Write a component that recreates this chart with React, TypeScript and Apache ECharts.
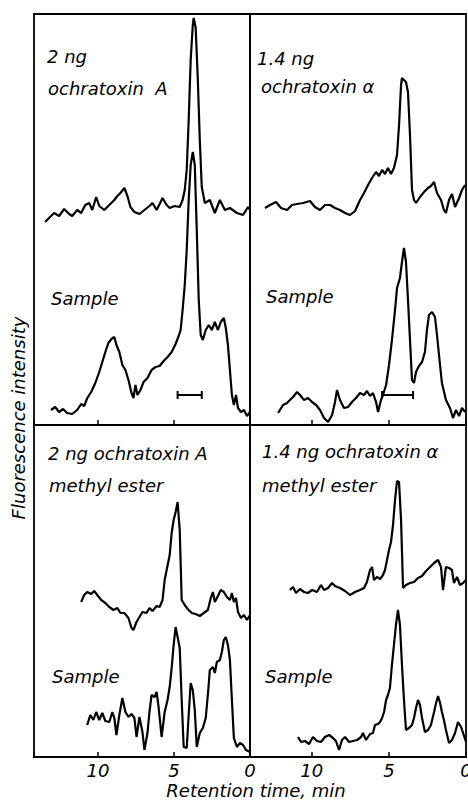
import React, { useEffect, useRef } from "react";
import * as echarts from "echarts";

type Pt = [number, number];

// Retention time (min) vs fluorescence intensity (arbitrary units, above each trace's baseline)
const OTA_STANDARD: Pt[] = [
  [13.47, 3], [13.21, 7], [12.88, 12], [12.55, 9], [12.22, 16], [11.89, 11], [11.69, 9], [11.36, 15],
  [11.1, 12], [10.83, 20], [10.57, 22], [10.37, 15], [10.11, 28], [9.91, 19], [9.58, 15], [9.25, 20],
  [8.92, 25], [8.72, 29], [8.52, 32], [8.26, 37], [8.06, 29], [7.86, 18], [7.6, 13], [7.27, 11],
  [6.94, 15], [6.61, 19], [6.41, 22], [6.14, 15], [5.94, 21], [5.75, 27], [5.48, 20], [5.28, 17],
  [4.95, 19], [4.62, 18], [4.43, 25], [4.29, 35], [4.16, 55], [4.03, 105], [3.9, 165], [3.76, 200],
  [3.7, 207], [3.57, 197], [3.43, 145], [3.3, 85], [3.17, 38], [2.97, 22], [2.64, 25], [2.31, 12],
  [1.98, 25], [1.65, 15], [1.32, 17], [0.86, 12], [0.46, 10], [0.13, 18], [0, 15],
];
const OTA_SAMPLE: Pt[] = [
  [13.08, 15], [12.81, 18], [12.55, 13], [12.29, 16], [12.02, 12], [11.69, 11], [11.36, 15], [11.1, 21],
  [10.9, 19], [10.7, 27], [10.44, 33], [10.17, 42], [9.91, 53], [9.71, 63], [9.51, 73], [9.31, 82],
  [9.11, 86], [8.92, 88], [8.78, 80], [8.59, 73], [8.39, 60], [8.19, 55], [7.99, 45], [7.79, 32],
  [7.66, 27], [7.53, 40], [7.4, 30], [7.2, 35], [7.0, 43], [6.74, 47], [6.47, 55], [6.21, 58],
  [5.94, 59], [5.68, 64], [5.42, 68], [5.15, 73], [4.89, 81], [4.69, 89], [4.56, 95], [4.43, 115],
  [4.29, 140], [4.16, 175], [4.03, 225], [3.9, 260], [3.76, 273], [3.63, 260], [3.5, 195], [3.37, 125],
  [3.24, 90], [3.1, 85], [2.91, 95], [2.71, 100], [2.51, 95], [2.31, 103], [2.11, 95], [1.92, 103],
  [1.72, 107], [1.59, 97], [1.45, 80], [1.32, 55], [1.19, 30], [1.06, 20], [0.92, 30], [0.79, 17],
  [0.59, 13], [0.4, 15], [0.2, 9], [0, 13],
];
const OTA_SAMPLE_BAR: Pt[] = [[4.76, 30], [3.17, 30]];

const OTALPHA_STANDARD: Pt[] = [
  [13.03, 17], [12.7, 20], [12.31, 23], [11.99, 17], [11.6, 15], [11.28, 20], [10.95, 21], [10.56, 22],
  [10.11, 24], [9.79, 18], [9.46, 15], [9.14, 20], [8.81, 20], [8.49, 17], [8.17, 15], [7.84, 12],
  [7.52, 10], [7.19, 14], [6.87, 25], [6.61, 32], [6.35, 40], [6.09, 47], [5.83, 53], [5.64, 49],
  [5.44, 55], [5.25, 51], [5.06, 57], [4.86, 51], [4.67, 57], [4.47, 70], [4.34, 100], [4.21, 140],
  [4.15, 147], [4.02, 145], [3.89, 143], [3.76, 133], [3.63, 90], [3.5, 35], [3.37, 25], [3.24, 22],
  [2.98, 28], [2.72, 33], [2.46, 37], [2.27, 39], [2.07, 43], [1.88, 32], [1.62, 25], [1.43, 15],
  [1.3, 12], [1.1, 25], [0.91, 31], [0.71, 18], [0.45, 27], [0.26, 35], [0.06, 40],
];
const OTALPHA_SAMPLE: Pt[] = [
  [12.18, 12], [11.86, 20], [11.6, 22], [11.41, 25], [11.21, 28], [10.95, 33], [10.76, 30], [10.5, 25],
  [10.24, 27], [9.98, 23], [9.72, 20], [9.46, 15], [9.2, 7], [8.94, 3], [8.68, 10], [8.49, 23],
  [8.36, 35], [8.17, 25], [7.91, 17], [7.65, 18], [7.39, 23], [7.13, 27], [6.87, 32], [6.61, 30],
  [6.42, 34], [6.22, 29], [6.03, 32], [5.83, 23], [5.7, 13], [5.51, 25], [5.38, 30], [5.18, 40],
  [4.99, 60], [4.8, 85], [4.6, 115], [4.47, 137], [4.28, 147], [4.15, 163], [4.02, 177], [3.89, 163],
  [3.76, 125], [3.63, 85], [3.5, 45], [3.37, 42], [3.24, 53], [3.05, 59], [2.85, 63], [2.66, 73],
  [2.53, 95], [2.4, 110], [2.2, 113], [2.01, 108], [1.88, 90], [1.75, 70], [1.56, 42], [1.3, 25],
  [1.04, 17], [0.84, 7], [0.65, 15], [0.45, 9], [0.26, 17], [0.06, 13],
];
const OTALPHA_SAMPLE_BAR: Pt[] = [[5.44, 30], [3.43, 30]];

const OTA_ME_STANDARD: Pt[] = [
  [11.1, 38], [10.9, 45], [10.7, 48], [10.44, 46], [10.24, 49], [10.04, 45], [9.78, 40], [9.51, 37],
  [9.25, 33], [8.98, 30], [8.72, 32], [8.52, 27], [8.26, 27], [7.99, 22], [7.79, 12], [7.66, 10],
  [7.46, 18], [7.27, 23], [7.07, 28], [6.8, 27], [6.61, 32], [6.41, 29], [6.14, 34], [5.94, 33],
  [5.75, 40], [5.61, 60], [5.48, 70], [5.28, 85], [5.15, 107], [5.02, 120], [4.89, 128], [4.76, 138],
  [4.62, 110], [4.49, 40], [4.29, 35], [4.1, 31], [3.83, 27], [3.57, 26], [3.3, 24], [3.04, 27],
  [2.77, 30], [2.58, 42], [2.44, 48], [2.31, 38], [2.11, 44], [1.92, 50], [1.72, 48], [1.52, 43],
  [1.32, 40], [1.19, 47], [1.06, 38], [0.92, 42], [0.79, 28], [0.59, 22], [0.4, 25], [0.2, 20], [0, 25],
];
const OTA_ME_SAMPLE: Pt[] = [
  [10.7, 32], [10.5, 42], [10.3, 37], [10.11, 45], [9.91, 37], [9.71, 44], [9.51, 36], [9.25, 35],
  [9.05, 45], [8.92, 39], [8.78, 22], [8.59, 42], [8.39, 59], [8.19, 45], [7.99, 40], [7.79, 43],
  [7.6, 39], [7.46, 20], [7.27, 40], [7.07, 25], [6.94, 7], [6.74, 24], [6.61, 45], [6.47, 62],
  [6.27, 60], [6.14, 65], [6.01, 50], [5.81, 20], [5.61, 45], [5.42, 57], [5.28, 70], [5.15, 89],
  [5.02, 112], [4.89, 130], [4.76, 120], [4.62, 109], [4.49, 57], [4.36, 10], [4.16, 9], [4.03, 42],
  [3.9, 74], [3.76, 67], [3.63, 47], [3.5, 10], [3.3, 24], [3.1, 29], [2.91, 39], [2.77, 62],
  [2.64, 87], [2.44, 90], [2.31, 84], [2.18, 95], [1.98, 97], [1.85, 105], [1.72, 117], [1.59, 120],
  [1.45, 112], [1.32, 97], [1.19, 57], [1.06, 19], [0.86, 10], [0.66, 14], [0.46, 12], [0.26, 7], [0, 5],
];

const OTALPHA_ME_STANDARD: Pt[] = [
  [11.41, 50], [11.21, 53], [11.02, 47], [10.76, 51], [10.5, 48], [10.24, 47], [9.98, 50], [9.66, 48],
  [9.4, 55], [9.2, 50], [8.94, 52], [8.68, 57], [8.49, 54], [8.17, 52], [7.84, 49], [7.52, 45],
  [7.19, 48], [6.87, 50], [6.61, 52], [6.42, 58], [6.22, 70], [6.09, 73], [5.96, 60], [5.77, 63],
  [5.57, 61], [5.38, 65], [5.25, 70], [5.12, 80], [4.99, 90], [4.86, 98], [4.73, 115], [4.6, 140],
  [4.47, 159], [4.34, 158], [4.21, 120], [4.08, 52], [3.89, 55], [3.63, 57], [3.37, 58], [3.11, 62],
  [2.85, 64], [2.59, 69], [2.33, 73], [2.07, 77], [1.81, 80], [1.62, 73], [1.49, 50], [1.3, 73],
  [1.1, 72], [0.91, 70], [0.78, 57], [0.58, 63], [0.39, 55], [0.19, 57], [0, 60],
];
const OTALPHA_ME_SAMPLE: Pt[] = [
  [10.89, 20], [10.69, 15], [10.43, 16], [10.17, 13], [9.92, 20], [9.66, 16], [9.4, 15], [9.14, 20],
  [8.88, 22], [8.62, 19], [8.43, 16], [8.23, 7], [8.04, 17], [7.84, 20], [7.58, 15], [7.32, 16],
  [7.06, 17], [6.8, 20], [6.68, 24], [6.48, 17], [6.22, 23], [6.03, 24], [5.9, 32], [5.7, 33],
  [5.57, 35], [5.44, 39], [5.31, 45], [5.18, 57], [5.06, 62], [4.93, 69], [4.8, 92], [4.67, 112],
  [4.54, 132], [4.41, 147], [4.28, 132], [4.15, 92], [4.02, 57], [3.89, 27], [3.69, 29], [3.5, 32],
  [3.37, 39], [3.24, 49], [3.11, 57], [2.98, 52], [2.85, 39], [2.66, 25], [2.46, 27], [2.27, 32],
  [2.07, 45], [1.94, 54], [1.81, 61], [1.68, 54], [1.56, 45], [1.43, 37], [1.3, 27], [1.1, 14],
  [0.91, 17], [0.71, 24], [0.52, 35], [0.32, 30], [0.19, 24], [0, 15],
];

const X_TICKS = [0, 5, 10];
const X_AXIS_TITLE = "Retention time, min";
const Y_AXIS_TITLE = "Fluorescence intensity";

const FONT = "DejaVu Sans";

export default function App() {
  const ref = useRef<HTMLDivElement>(null);
  useEffect(() => {
    if (!ref.current) return;
    const chart = echarts.init(ref.current, undefined, { renderer: "svg" });

    const panels = [
      { left: 34, top: 14, height: 411, max: 14.2, labels: false },
      { left: 250, top: 14, height: 411, max: 14, labels: false },
      { left: 34, top: 425, height: 332, max: 14.2, labels: true },
      { left: 250, top: 425, height: 332, max: 14, labels: true },
    ];
    const traces = [
      { panel: 0, data: OTA_STANDARD, top: 14, height: 211, bar: null as Pt[] | null },
      { panel: 0, data: OTA_SAMPLE, top: 14, height: 411, bar: OTA_SAMPLE_BAR },
      { panel: 1, data: OTALPHA_STANDARD, top: 14, height: 211, bar: null },
      { panel: 1, data: OTALPHA_SAMPLE, top: 14, height: 411, bar: OTALPHA_SAMPLE_BAR },
      { panel: 2, data: OTA_ME_STANDARD, top: 425, height: 215, bar: null },
      { panel: 2, data: OTA_ME_SAMPLE, top: 425, height: 332, bar: null },
      { panel: 3, data: OTALPHA_ME_STANDARD, top: 425, height: 215, bar: null },
      { panel: 3, data: OTALPHA_ME_SAMPLE, top: 425, height: 332, bar: null },
    ];

    const grid: any[] = [];
    const xAxis: any[] = [];
    const yAxis: any[] = [];
    const series: any[] = [];

    panels.forEach((p, i) => {
      grid.push({
        left: p.left, top: p.top, width: 216, height: p.height,
        outerBoundsMode: "none", containLabel: false,
        show: true, borderColor: "#000", borderWidth: 1.8, backgroundColor: "transparent",
      });
      xAxis.push({
        gridIndex: i, type: "value", min: 0, max: p.max, interval: 5, inverse: true,
        axisLine: { show: true, lineStyle: { color: "#000", width: 1.8 } },
        axisTick: { show: true, inside: true, length: 5, lineStyle: { color: "#000", width: 1.5 } },
        axisLabel: {
          show: p.labels, margin: 4, color: "#000", fontFamily: FONT, fontStyle: "italic", fontSize: 18,
          hideOverlap: false,
          formatter: (v: number) => (X_TICKS.includes(v) ? String(v) : ""),
        },
        splitLine: { show: false },
      });
      yAxis.push({ gridIndex: i, type: "value", min: 0, max: 1, show: false, splitLine: { show: false } });
    });

    traces.forEach((t, k) => {
      const p = panels[t.panel];
      const gi = panels.length + k;
      grid.push({
        left: p.left, top: t.top, width: 216, height: t.height, show: false,
        outerBoundsMode: "none", containLabel: false,
      });
      xAxis.push({ gridIndex: gi, type: "value", min: 0, max: p.max, inverse: true, show: false, splitLine: { show: false } });
      yAxis.push({ gridIndex: gi, type: "value", min: 0, max: t.height, show: false, splitLine: { show: false } });
      series.push({
        type: "line", xAxisIndex: gi, yAxisIndex: gi, data: t.data, showSymbol: false, symbol: "none",
        lineStyle: { color: "#000", width: 2.2 }, silent: true,
      });
      if (t.bar) {
        series.push({
          type: "line", xAxisIndex: gi, yAxisIndex: gi, data: t.bar, showSymbol: true,
          symbol: "rect", symbolSize: [2, 8], itemStyle: { color: "#000" },
          lineStyle: { color: "#000", width: 2 }, silent: true,
        });
      }
    });

    const ASC = 16; // baseline offset below the text box top
    const txt = (text: string, x: number, baseline: number, extra: any = {}) => ({
      type: "text", x, y: baseline - ASC,
      style: {
        text, fill: "#000", font: `italic 18px "${FONT}"`, textAlign: "left",
        textVerticalAlign: "top", verticalAlign: "top", ...extra,
      },
    });

    chart.setOption({
      animation: false,
      backgroundColor: "#fff",
      grid, xAxis, yAxis, series,
      graphic: [
        txt("2 ng", 47, 63),
        txt("ochratoxin  A", 48, 95),
        txt("1.4 ng", 257, 65),
        txt("ochratoxin \u03b1", 261, 93),
        txt("Sample", 51, 305),
        txt("Sample", 266, 303),
        txt("2 ng ochratoxin A", 48, 460),
        txt("methyl ester", 49, 492),
        txt("1.4 ng ochratoxin \u03b1", 262, 458),
        txt("methyl ester", 262, 492),
        txt("Sample", 52, 683),
        txt("Sample", 265, 683),
        txt(X_AXIS_TITLE, 256, 797, { textAlign: "center", align: "center" }),
        {
          type: "text", x: 25 - ASC, y: 418, rotation: Math.PI / 2,
          style: {
            text: Y_AXIS_TITLE, fill: "#000", font: `italic 18px "${FONT}"`,
            textAlign: "center", align: "center", textVerticalAlign: "top", verticalAlign: "top",
          },
        },
      ],
    });
    return () => chart.dispose();
  }, []);
  return (
    <div
      ref={ref}
      style={{ position: "fixed", left: 0, top: 0, width: 468, height: 802, background: "#fff" }}
    />
  );
}
